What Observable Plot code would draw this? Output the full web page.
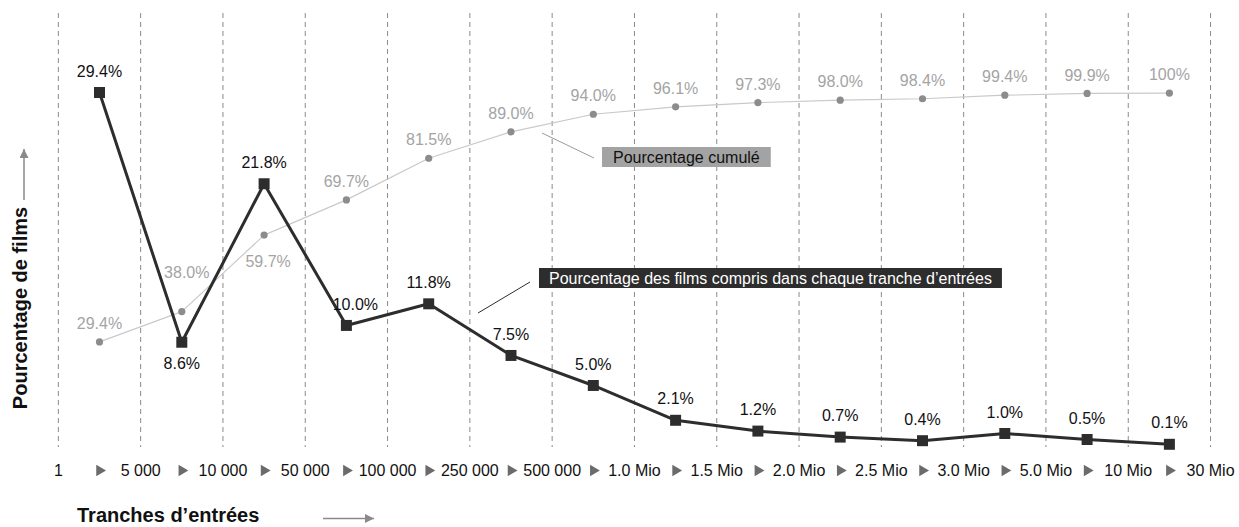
<!DOCTYPE html>
<html>
<head>
<meta charset="utf-8">
<script src="https://cdn.jsdelivr.net/npm/d3@7"></script>
<script src="https://cdn.jsdelivr.net/npm/@observablehq/plot@0.6"></script>
<style>
  html, body { margin: 0; padding: 0; background: #fff; }
  #chart { width: 1239px; height: 527px; }
  svg { font-family: "Liberation Sans", Arial, sans-serif; }
</style>
</head>
<body>
<div id="chart"></div>
<script>
// Band boundaries (tick labels)
const bounds = ["1", "5 000", "10 000", "50 000", "100 000", "250 000", "500 000",
  "1.0 Mio", "1.5 Mio", "2.0 Mio", "2.5 Mio", "3.0 Mio", "5.0 Mio", "10 Mio", "30 Mio"];
// Share of films in each band (%)
const share = [29.4, 8.6, 21.8, 10.0, 11.8, 7.5, 5.0, 2.1, 1.2, 0.7, 0.4, 1.0, 0.5, 0.1];
// Cumulative share (%)
const cumul = [29.4, 38.0, 59.7, 69.7, 81.5, 89.0, 94.0, 96.1, 97.3, 98.0, 98.4, 99.4, 99.9, 100];

const legendCumul = "Pourcentage cumulé";
const legendShare = "Pourcentage des films compris dans chaque tranche d\u2019entrées";
const titleX = "Tranches d\u2019entrées";
const titleY = "Pourcentage de films";

const rows = share.map((v, i) => ({i, share: v, cum: cumul[i]}));
const bIdx = bounds.map((_, i) => i - 0.5);

// cumulative axis (0-100) drawn on the same frame as the share axis
const CUM_K = 0.2935;
const fmt = v => v === 100 ? "100%" : v.toFixed(1) + "%";

const cumDy = i => i === 1 ? -39 : i === 2 ? 27 : -18;
const cumDx = i => i === 1 ? 5 : i === 2 ? 4 : 0;
const shareDy = i => i === 1 ? 22 : -21;
const shareDx = i => i === 3 ? 9 : 0;

const font = "'Liberation Sans', Arial, sans-serif";

const marks = [
  Plot.ruleX(bIdx, {x: d => d, stroke: "#8a8a8a", strokeWidth: 1, strokeDasharray: "5,4"}),
  Plot.axisX({ticks: bIdx, tickFormat: d => bounds[Math.round(d + 0.5)], tickSize: 0,
    tickPadding: 17, fontSize: 16, fill: "#111", anchor: "bottom", label: null}),
  Plot.dot(rows, {x: "i", frameAnchor: "bottom", dy: 23, symbol: "triangle", rotate: 90,
    r: 4.2, fill: "#6b6b6b", stroke: "none"}),
  // cumulative series
  Plot.line(rows, {x: "i", y: d => d.cum * CUM_K, stroke: "#c9c9c9", strokeWidth: 1.2}),
  Plot.dot(rows, {x: "i", y: d => d.cum * CUM_K, r: 3.6, fill: "#8c8c8c", stroke: "none"}),
  // share series
  Plot.line(rows, {x: "i", y: "share", stroke: "#2d2d2d", strokeWidth: 3}),
  Plot.dot(rows, {x: "i", y: "share", symbol: "square", r: 6.2, fill: "#2d2d2d", stroke: "none"})
];

// value labels
rows.forEach(d => {
  marks.push(Plot.text([d], {x: "i", y: r => r.cum * CUM_K, text: r => fmt(r.cum),
    dy: cumDy(d.i), dx: cumDx(d.i), fontSize: 16, fill: "#a4a4a4"}));
  marks.push(Plot.text([d], {x: "i", y: "share", text: r => fmt(r.share),
    dy: shareDy(d.i), dx: shareDx(d.i), fontSize: 16, fill: "#111"}));
});

const svg = Plot.plot({
  width: 1239,
  height: 527,
  marginTop: 13,
  marginBottom: 80,
  marginLeft: 40,
  marginRight: 20,
  style: {fontFamily: font, fontSize: "16px", background: "#fff"},
  x: {domain: [-0.5, 13.5], range: [57.85, 1210.05], axis: null},
  y: {domain: [0, 29.4], range: [445, 92], axis: null},
  marks
});

document.getElementById("chart").appendChild(svg);

// annotations (legend callouts and axis titles)
const s = d3.select(svg);
const defs = s.append("defs");
defs.append("marker").attr("id", "arr").attr("viewBox", "0 0 10 10")
  .attr("refX", 10).attr("refY", 5).attr("markerWidth", 9).attr("markerHeight", 9)
  .attr("markerUnits", "userSpaceOnUse").attr("orient", "auto")
  .append("path").attr("d", "M0,0L10,5L0,10z").attr("fill", "#8a8a8a");

const g = s.append("g").attr("text-anchor", "start");
// cumulative callout
g.append("line").attr("x1", 542).attr("y1", 133).attr("x2", 594).attr("y2", 158)
  .attr("stroke", "#9a9a9a").attr("stroke-width", 1);
const cumRect = g.append("rect").attr("x", 602).attr("y", 147).attr("height", 20)
  .attr("fill", "#a3a3a3");
const cumText = g.append("text").attr("x", 613).attr("y", 163).attr("font-size", 16)
  .attr("fill", "#111").attr("text-anchor", "start").text(legendCumul);
cumRect.attr("width", cumText.node().getComputedTextLength() + 22);
// share callout
g.append("line").attr("x1", 478).attr("y1", 313).attr("x2", 530).attr("y2", 282)
  .attr("stroke", "#2d2d2d").attr("stroke-width", 1);
const shareRect = g.append("rect").attr("x", 539).attr("y", 268).attr("height", 20)
  .attr("fill", "#2d2d2d");
const shareText = g.append("text").attr("x", 549).attr("y", 284).attr("font-size", 16)
  .attr("fill", "#fff").attr("text-anchor", "start").text(legendShare);
shareRect.attr("width", shareText.node().getComputedTextLength() + 20);

// x title
g.append("text").attr("x", 77).attr("y", 522).attr("font-size", 20).attr("font-weight", "bold")
  .attr("fill", "#111").attr("text-anchor", "start").text(titleX);
g.append("line").attr("x1", 323).attr("y1", 518.5).attr("x2", 374).attr("y2", 518.5)
  .attr("stroke", "#8a8a8a").attr("stroke-width", 1.5).attr("marker-end", "url(#arr)");
// y title
g.append("text").attr("transform", "translate(27,308) rotate(-90)").attr("text-anchor", "middle")
  .attr("font-size", 20).attr("font-weight", "bold").attr("fill", "#111").text(titleY);
g.append("line").attr("x1", 24).attr("y1", 200).attr("x2", 24).attr("y2", 149)
  .attr("stroke", "#8a8a8a").attr("stroke-width", 1.5).attr("marker-end", "url(#arr)");
</script>
</body>
</html>
